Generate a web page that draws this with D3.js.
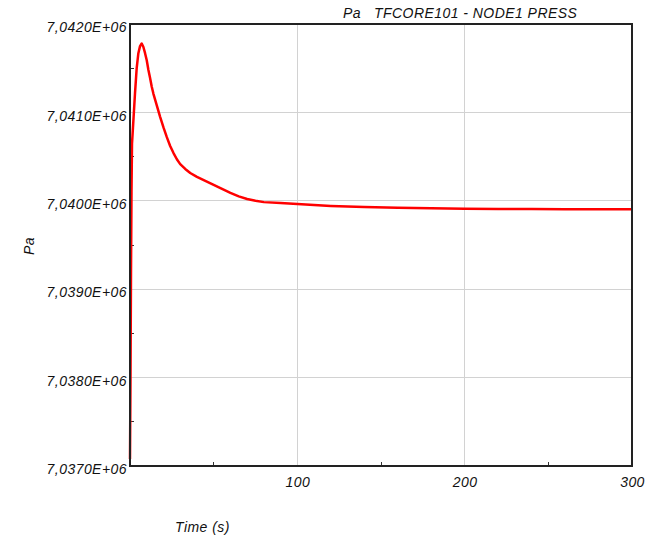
<!DOCTYPE html>
<html lang="en">
<head>
    <meta charset="UTF-8">
    <title>TFCORE101 - NODE1 PRESS</title>
    <script src="https://d3js.org/d3.v7.min.js"></script>
    <style>
        html, body { margin: 0; padding: 0; background: #fff; }
        svg text {
            font-family: "Liberation Sans", Arial, sans-serif;
            font-style: italic;
            font-size: 14px;
            letter-spacing: 0.45px;
            fill: #111;
        }
    </style>
</head>
<body>
    <div id="chart"></div>

    <script>
        // Time (s)
        const times = [0, 0.3, 0.6, 0.9, 1.2, 1.5, 2, 3, 4, 5, 6, 7, 8, 9, 10, 11, 12, 13, 14,
            16, 18, 20, 22, 24, 26, 28, 30, 33, 36, 40, 45, 50, 55, 60, 65, 70, 75, 80,
            90, 100, 110, 120, 140, 160, 180, 200, 220, 240, 260, 280, 300];
        // NODE1 PRESS (Pa)
        const pressure = [7037080, 7038000, 7039200, 7040100, 7040650, 7040740, 7040900,
            7041220, 7041500, 7041670, 7041750, 7041780, 7041740, 7041670, 7041590, 7041480,
            7041390, 7041290, 7041210, 7041080, 7040950, 7040830, 7040720, 7040620, 7040540,
            7040470, 7040415, 7040360, 7040315, 7040270, 7040225, 7040180, 7040135, 7040090,
            7040050, 7040020, 7040000, 7039985, 7039975, 7039965, 7039952, 7039942, 7039930,
            7039921, 7039915, 7039910, 7039908, 7039906, 7039905, 7039905, 7039905];

        const yTicks = [7037000, 7038000, 7039000, 7040000, 7041000, 7042000];
        const yMinorTicks = [7037500, 7038500, 7039500, 7040500, 7041500];
        const xTicks = [100, 200, 300];
        const xMinorTicks = [50, 150, 250];

        const width = 655, height = 541;
        const plot = { left: 130, right: 632, top: 24, bottom: 466 };

        const svg = d3.select("#chart")
            .append("svg")
            .attr("width", width)
            .attr("height", height);

        const x = d3.scaleLinear().domain([0, 300]).range([plot.left, plot.right]);
        const y = d3.scaleLinear().domain([7037000, 7042000]).range([plot.bottom, plot.top]);

        const fmt = v => (v / 1e6).toFixed(4).replace(".", ",") + "E+06";

        // grid lines
        const grid = svg.append("g")
            .attr("stroke", "#d2d2d2")
            .attr("stroke-width", 1)
            .attr("shape-rendering", "crispEdges");
        grid.selectAll(".gy")
            .data(yTicks.slice(1, -1))
            .join("line")
            .attr("x1", plot.left).attr("x2", plot.right)
            .attr("y1", d => y(d)).attr("y2", d => y(d));
        grid.selectAll(".gx")
            .data(xTicks.slice(0, -1))
            .join("line")
            .attr("y1", plot.top).attr("y2", plot.bottom)
            .attr("x1", d => x(d)).attr("x2", d => x(d));

        // minor ticks, pointing inside
        const minor = svg.append("g")
            .attr("stroke", "#333")
            .attr("shape-rendering", "crispEdges");
        minor.selectAll(".my")
            .data(yMinorTicks)
            .join("line")
            .attr("x1", plot.left).attr("x2", plot.left + 4)
            .attr("y1", d => y(d)).attr("y2", d => y(d));
        minor.selectAll(".mx")
            .data(xMinorTicks)
            .join("line")
            .attr("y1", plot.bottom).attr("y2", plot.bottom - 4)
            .attr("x1", d => x(d)).attr("x2", d => x(d));

        // the pressure curve
        const line = d3.line()
            .x((d, i) => x(times[i]))
            .y(d => y(d));
        svg.append("path")
            .datum(pressure)
            .attr("d", line)
            .attr("fill", "none")
            .attr("stroke", "#ff0000")
            .attr("stroke-width", 2.5)
            .attr("stroke-linejoin", "round");

        // frame
        svg.append("rect")
            .attr("x", plot.left).attr("y", plot.top)
            .attr("width", plot.right - plot.left)
            .attr("height", plot.bottom - plot.top)
            .attr("fill", "none")
            .attr("stroke", "#222")
            .attr("stroke-width", 1.2)
            .attr("shape-rendering", "crispEdges");

        // Y axis labels
        svg.append("g")
            .attr("transform", `translate(${plot.left},0)`)
            .call(d3.axisLeft(y).tickValues(yTicks).tickSize(0).tickPadding(3).tickFormat(fmt))
            .call(g => g.select(".domain").remove())
            .call(g => g.selectAll("text")
                .attr("dy", "0.55em")
                .attr("font-family", null)
                .attr("font-size", null));

        // X axis labels
        svg.append("g")
            .attr("transform", `translate(0,${plot.bottom})`)
            .call(d3.axisBottom(x).tickValues(xTicks).tickSize(0).tickFormat(d3.format("d")))
            .call(g => g.select(".domain").remove())
            .call(g => g.selectAll("text")
                .attr("y", 21)
                .attr("dy", 0)
                .attr("font-family", null)
                .attr("font-size", null));

        // titles
        svg.append("text")
            .attr("x", 343).attr("y", 18)
            .attr("xml:space", "preserve")
            .style("white-space", "pre")
            .text("Pa   TFCORE101 - NODE1 PRESS");

        svg.append("text")
            .attr("transform", "translate(34,246) rotate(-90)")
            .attr("text-anchor", "middle")
            .text("Pa");

        svg.append("text")
            .attr("x", 175).attr("y", 532)
            .text("Time (s)");
    </script>
</body>
</html>
